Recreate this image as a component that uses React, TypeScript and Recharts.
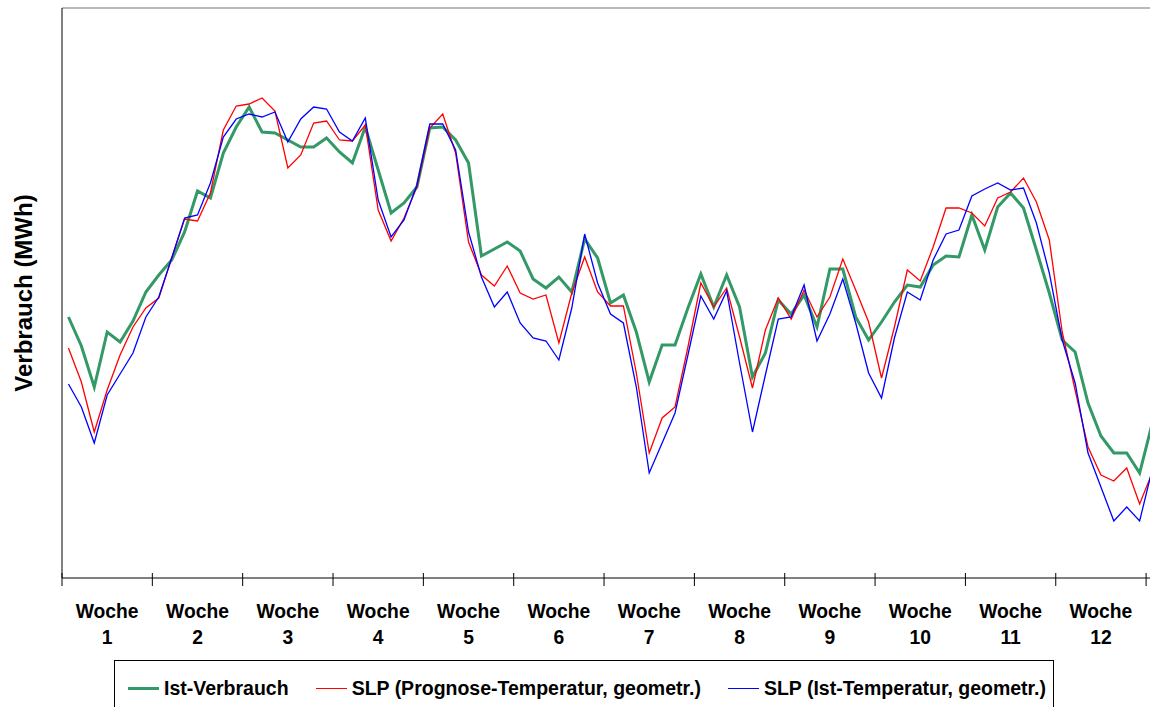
import React from 'react';
import { LineChart, Line, XAxis, YAxis, ReferenceLine, Legend } from 'recharts';

// Tageswerte, 12 Wochen + erster Tag von Woche 13 (rechts abgeschnitten)
const istVerbrauch = [
  261, 232, 191, 246, 236, 257, 286, 303, 318, 346, 387, 380, 425, 451,
  471, 446, 445, 438, 431, 431, 440, 426, 415, 451, 408, 365, 375, 391,
  450, 451, 438, 415, 322, 329, 336, 327, 299, 290, 301, 286, 339, 320,
  275, 283, 246, 196, 233, 233, 270, 304, 271, 303, 271, 201, 225, 278,
  264, 283, 251, 309, 309, 261, 238, 256, 276, 293, 291, 313, 322, 321,
  363, 328, 371, 385, 370, 328, 285, 238, 226, 175, 142, 125, 125, 105,
  156,
];
const slpPrognose = [
  230, 196, 146, 188, 223, 251, 270, 280, 320, 359, 357, 385, 448, 472,
  474, 480, 467, 410, 423, 455, 457, 438, 437, 453, 368, 337, 360, 391,
  450, 464, 425, 336, 303, 292, 312, 285, 279, 283, 235, 285, 321, 286,
  272, 272, 205, 125, 160, 171, 231, 295, 271, 290, 241, 190, 248, 280,
  259, 288, 261, 281, 319, 288, 256, 200, 251, 308, 297, 331, 370, 370,
  365, 352, 380, 386, 400, 376, 338, 246, 188, 131, 103, 97, 110, 74,
  106,
];
const slpIst = [
  194, 171, 135, 183, 204, 225, 261, 281, 320, 360, 363, 395, 441, 459,
  464, 461, 466, 436, 459, 471, 469, 446, 437, 460, 378, 341, 358, 393,
  454, 454, 428, 346, 301, 271, 286, 255, 240, 237, 218, 270, 344, 295,
  264, 255, 191, 105, 135, 165, 223, 282, 259, 287, 215, 146, 203, 259,
  261, 293, 237, 264, 299, 255, 205, 180, 240, 286, 278, 318, 344, 348,
  382, 389, 395, 388, 390, 355, 305, 238, 195, 125, 91, 57, 71, 57,
  110,
];

const weekLabels = [
  'Woche 1', 'Woche 2', 'Woche 3', 'Woche 4', 'Woche 5', 'Woche 6',
  'Woche 7', 'Woche 8', 'Woche 9', 'Woche 10', 'Woche 11', 'Woche 12',
];

const seriesInfo = [
  { key: 'ist', name: 'Ist-Verbrauch', color: '#339966', width: 3 },
  { key: 'prog', name: 'SLP (Prognose-Temperatur, geometr.)', color: '#ff0000', width: 1.3 },
  { key: 'istT', name: 'SLP (Ist-Temperatur, geometr.)', color: '#0000ff', width: 1.3 },
];

const DAYS = 7;
const data = istVerbrauch.map((v, i) => ({
  day: i + 0.5,
  ist: v,
  prog: slpPrognose[i],
  istT: slpIst[i],
}));

const weekStarts = [...weekLabels.map((_, i) => i * DAYS), weekLabels.length * DAYS];
const weekMids = weekLabels.map((_, i) => i * DAYS + DAYS / 2);
const xTicks = [...weekStarts, ...weekMids].sort((a, b) => a - b);

const FONT = '"Liberation Sans", Arial, sans-serif';

const WeekTick = (props: any) => {
  const { x, y, payload } = props;
  const v = payload.value;
  if (v % DAYS === 0) {
    return <line x1={x} x2={x} y1={y - 5} y2={y + 8} stroke="#000" strokeWidth={1} />;
  }
  const label = weekLabels[Math.floor(v / DAYS)];
  if (!label) return null;
  const [word, num] = label.split(' ');
  return (
    <g fontFamily={FONT} fontWeight="bold" fontSize={19.3} fill="#000">
      <text x={x} y={y + 40} textAnchor="middle">{word}</text>
      <text x={x} y={y + 66} textAnchor="middle">{num}</text>
    </g>
  );
};

const renderLegend = () => (
  <div
    style={{
      border: '1px solid #000',
      height: 60,
      boxSizing: 'border-box',
      display: 'flex',
      alignItems: 'flex-start',
      paddingTop: 16,
      paddingLeft: 13,
      gap: 27,
      fontFamily: FONT,
      fontWeight: 'bold',
      fontSize: 19.5,
      color: '#000',
      background: '#fff',
    }}
  >
    {seriesInfo.map((s) => (
      <div key={s.key} style={{ display: 'flex', alignItems: 'center', whiteSpace: 'nowrap' }}>
        <span
          style={{
            display: 'inline-block',
            width: 31,
            height: s.width > 2 ? 3 : 1.5,
            background: s.color,
            marginRight: 5,
          }}
        />
        {s.name}
      </div>
    ))}
  </div>
);

export default function App() {
  return (
    <div
      style={{
        position: 'absolute',
        left: 0,
        top: 0,
        width: 1150,
        height: 707,
        overflow: 'hidden',
        background: '#fff',
      }}
    >
      <LineChart
        width={1250}
        height={707}
        data={data}
        margin={{ top: 8, right: 91, bottom: 99, left: 61 }}
      >
        <XAxis
          dataKey="day"
          type="number"
          domain={[0, 85]}
          ticks={xTicks}
          interval={0}
          height={30}
          tick={<WeekTick />}
          tickLine={false}
          tickSize={0}
          tickMargin={0}
          axisLine={{ stroke: '#000', strokeWidth: 1 }}
        />
        <YAxis
          type="number"
          domain={[0, 570]}
          width={1}
          tick={false}
          tickLine={false}
          axisLine={{ stroke: '#000', strokeWidth: 1 }}
          label={{
            value: 'Verbrauch (MWh)',
            angle: -90,
            position: 'left',
            offset: 38,
            style: {
              textAnchor: 'middle',
              fontFamily: FONT,
              fontWeight: 'bold',
              fontSize: 24,
              fill: '#000',
            },
          }}
        />
        <ReferenceLine y={570} stroke="#a0a0a0" strokeWidth={1.5} />
        <Legend
          verticalAlign="middle"
          align="center"
          content={renderLegend}
          wrapperStyle={{ left: 114, top: 660, width: 940, height: 60 }}
        />
        {seriesInfo.map((s) => (
          <Line
            key={s.key}
            type="linear"
            dataKey={s.key}
            name={s.name}
            stroke={s.color}
            strokeWidth={s.width}
            dot={false}
            activeDot={false}
            isAnimationActive={false}
          />
        ))}
      </LineChart>
    </div>
  );
}
